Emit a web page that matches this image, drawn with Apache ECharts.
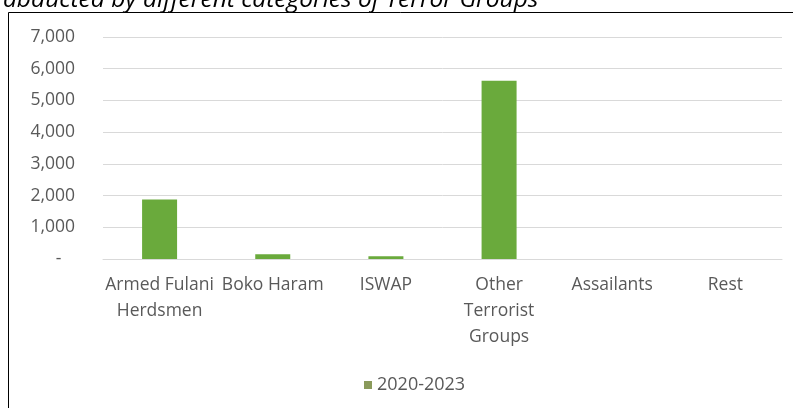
<!DOCTYPE html>
<html>
<head>
<meta charset="utf-8">
<script src="https://cdn.jsdelivr.net/npm/echarts@6/dist/echarts.min.js"></script>
<style>html,body{margin:0;padding:0;background:#fff}#c{width:793px;height:408px}</style>
</head>
<body>
<div id="c"></div>
<script>
const titleText = 'abducted by different categories of Terror Groups';
const categories = ['Armed Fulani\nHerdsmen', 'Boko Haram', 'ISWAP', 'Other\nTerrorist\nGroups', 'Assailants', 'Rest'];
const seriesName = '2020-2023';
const values = [1880, 150, 90, 5620, 0, 0];
const yTicks = [0, 1000, 2000, 3000, 4000, 5000, 6000, 7000];

const font = '"Open Sans", sans-serif';
const chart = echarts.init(document.getElementById('c'));
chart.setOption({
  animation: false,
  backgroundColor: '#fff',
  graphic: [
    { type: 'text', left: 3, top: -12, style: { text: titleText, font: 'italic 24.5px ' + font, fill: '#000' } },
    { type: 'line', shape: { x1: 8.5, y1: 12.5, x2: 793, y2: 12.5 }, style: { stroke: '#000', lineWidth: 1 } },
    { type: 'line', shape: { x1: 8.5, y1: 12.5, x2: 8.5, y2: 408 }, style: { stroke: '#000', lineWidth: 1 } }
  ],
  grid: { left: 103, right: 11, top: 37, bottom: 149, containLabel: false },
  legend: {
    data: [{ name: seriesName, itemStyle: { color: '#8a9a5b' } }],
    left: 359, top: 371, icon: 'rect', itemWidth: 8, itemHeight: 8, itemGap: 3,
    textStyle: { fontFamily: font, fontSize: 18, color: '#595959' }
  },
  xAxis: {
    type: 'category', data: categories,
    axisLine: { show: true, lineStyle: { color: '#d9d9d9' } },
    axisTick: { show: false },
    axisLabel: { fontFamily: font, fontSize: 17.5, color: '#595959', lineHeight: 26, margin: 13, interval: 0 }
  },
  yAxis: {
    type: 'value', min: yTicks[0], max: yTicks[yTicks.length - 1], interval: 1000,
    axisLine: { show: false }, axisTick: { show: false },
    splitLine: { lineStyle: { color: '#d9d9d9', width: 1 } },
    axisLabel: {
      fontFamily: font, fontSize: 17.5, color: '#595959', margin: 28,
      formatter: v => v === 0 ? '-   ' : v.toLocaleString('en-US')
    }
  },
  series: [{
    name: seriesName, type: 'bar', data: values, barWidth: 35,
    itemStyle: { color: '#6aaa3c' }
  }]
});
</script>
</body>
</html>
